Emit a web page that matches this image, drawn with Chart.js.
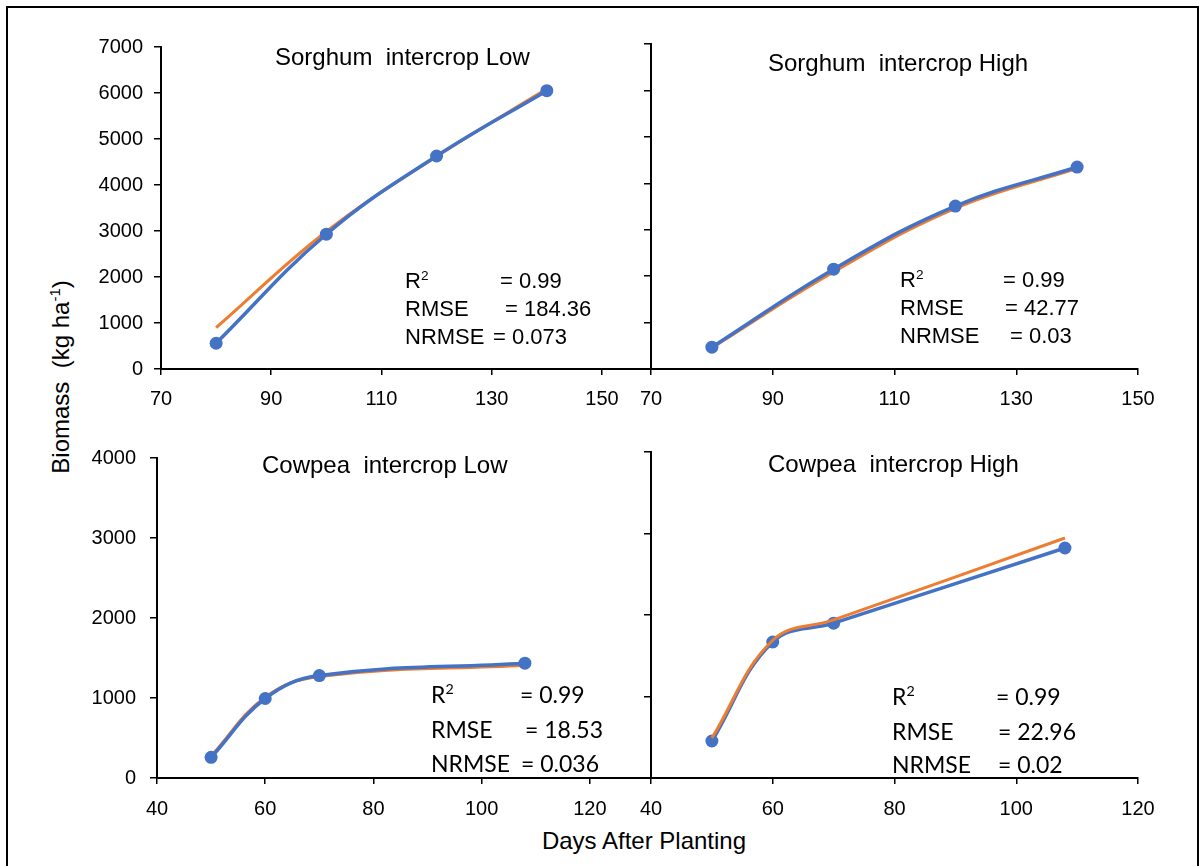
<!DOCTYPE html>
<html>
<head>
<meta charset="utf-8">
<script src="https://cdn.jsdelivr.net/npm/chart.js@4.4.0/dist/chart.umd.min.js"></script>
<style>
  body { margin: 0; background: #fff; }
  #fig { position: relative; width: 1199px; height: 866px; overflow: hidden; background: #fff; }
  #frame { position: absolute; left: 6px; top: 6px; width: 1189px; height: 900px; border: 2px solid #000; }
  canvas { position: absolute; }
  .t { position: absolute; white-space: pre; color: #000; line-height: 1; }
  .sup { position: relative; font-size: 0.62em; top: -0.6em; }
</style>
</head>
<body>
<div id="fig"><div id="frame"></div></div>
<script>
// days after planting
const sorghumDays = [80, 100, 120, 140];
const cowpeaDays = [50, 60, 70, 108];

// biomass (kg ha-1), observed = blue with markers, simulated = orange
const sorghumLowObs = [560, 2930, 4630, 6050];
const sorghumLowSim = [900, 2990, 4620, 6090];
const sorghumHighObs = [470, 2150, 3510, 4350];
const sorghumHighSim = [455, 2090, 3460, 4320];
const cowpeaLowObs = [258, 994, 1280, 1435];
const cowpeaLowSim = [275, 1010, 1270, 1410];
const cowpeaHighObs = [454, 1669, 1900, 2822];
const cowpeaHighSim = [490, 1690, 1940, 2945];

// tick labels
const sorghumXTicks = [70, 90, 110, 130, 150];
const cowpeaXTicks = [40, 60, 80, 100, 120];
const sorghumYTicks = [0, 1000, 2000, 3000, 4000, 5000, 6000, 7000];
const cowpeaYTicks = [0, 1000, 2000, 3000, 4000];

// panel titles and fit statistics
const panelTitles = ["Sorghum  intercrop Low", "Sorghum  intercrop High", "Cowpea  intercrop Low", "Cowpea  intercrop High"];
const statR2 = ["0.99", "0.99", "0.99", "0.99"];
const statRMSE = ["184.36", "42.77", "18.53", "22.96"];
const statNRMSE = ["0.073", "0.03", "0.036", "0.02"];

const BLUE = "#4472C4";
const ORANGE = "#ED7D31";
const ARIAL = "'Liberation Sans', Arial, sans-serif";
const CALIBRI = "Lato, 'Open Sans', sans-serif";

const fig = document.getElementById("fig");

// chart area [left, top, right, bottom] in page pixels
const panels = [
    { area: [161, 44, 651, 369], days: sorghumDays, obs: sorghumLowObs, sim: sorghumLowSim,
      xTicks: sorghumXTicks, xMax: 158.9, yTicks: sorghumYTicks, yLabels: true, simOnTop: false, yPad: 11, xPad: 12 },
    { area: [651, 44, 1138, 369], days: sorghumDays, obs: sorghumHighObs, sim: sorghumHighSim,
      xTicks: sorghumXTicks, xMax: 150, yTicks: sorghumYTicks, yLabels: false, simOnTop: false, yPad: 11, xPad: 12 },
    { area: [157, 452, 651, 778], days: cowpeaDays, obs: cowpeaLowObs, sim: cowpeaLowSim,
      xTicks: cowpeaXTicks, xMax: 131.3, yTicks: cowpeaYTicks, yLabels: true, simOnTop: false, yPad: 14, xPad: 13 },
    { area: [651, 452, 1138, 778], days: cowpeaDays, obs: cowpeaHighObs, sim: cowpeaHighSim,
      xTicks: cowpeaXTicks, xMax: 120, yTicks: cowpeaYTicks, yLabels: false, simOnTop: true, yPad: 14, xPad: 13 }
];

function makePanel(p) {
    const [l, t, r, b] = p.area;
    const padL = 70, padT = 20, padR = 30, padB = 45;
    const c = document.createElement("canvas");
    c.width = r - l + padL + padR;
    c.height = b - t + padT + padB;
    c.style.left = (l - padL) + "px";
    c.style.top = (t - padT) + "px";
    fig.appendChild(c);

    const obs = {
        label: "Observed",
        data: p.days.map((d, i) => ({ x: d, y: p.obs[i] })),
        borderColor: BLUE, backgroundColor: BLUE,
        borderWidth: 3.5, pointRadius: 6.5, pointBorderWidth: 0, tension: 0.4
    };
    const sim = {
        label: "Simulated",
        data: p.days.map((d, i) => ({ x: d, y: p.sim[i] })),
        borderColor: ORANGE, backgroundColor: ORANGE,
        borderWidth: 3, pointRadius: 0, tension: 0.4
    };
    const axisGrid = (len) => ({ drawOnChartArea: false, color: "#000", lineWidth: 1.5, tickLength: len });

    new Chart(c, {
        type: "line",
        data: { datasets: p.simOnTop ? [sim, obs] : [obs, sim] },
        options: {
            responsive: false,
            animation: false,
            layout: { padding: { left: 0, top: padT, right: padR, bottom: 0 } },
            plugins: { legend: { display: false }, tooltip: { enabled: false } },
            scales: {
                x: {
                    type: "linear", min: p.xTicks[0], max: p.xMax,
                    afterBuildTicks: s => { s.ticks = p.xTicks.map(v => ({ value: v })); },
                    afterFit: s => { s.height = padB; },
                    grid: axisGrid(6),
                    border: { color: "#000", width: 2 },
                    ticks: { color: "#000", font: { family: ARIAL, size: 20 }, padding: p.xPad,
                             maxRotation: 0, autoSkip: false, callback: v => String(v) }
                },
                y: {
                    min: 0, max: p.yTicks[p.yTicks.length - 1],
                    afterBuildTicks: s => { s.ticks = p.yTicks.map(v => ({ value: v })); },
                    afterFit: s => { s.width = padL; },
                    grid: axisGrid(7),
                    border: { color: "#000", width: 2 },
                    ticks: { display: p.yLabels, color: "#000", font: { family: ARIAL, size: 20 },
                             padding: p.yPad, callback: v => String(v) }
                }
            }
        }
    });
}

panels.forEach(makePanel);

// text placed by baseline
function addText(html, x, baseline, size, family) {
    const d = document.createElement("div");
    d.className = "t";
    d.innerHTML = html;
    d.style.fontSize = size + "px";
    d.style.fontFamily = family;
    const k = family === ARIAL ? 0.847 : 0.887;
    d.style.left = x + "px";
    d.style.top = (baseline - size * k) + "px";
    fig.appendChild(d);
    return d;
}

// panel titles
const titlePos = [[275, 65], [768, 71], [262, 473], [768, 472]];
panelTitles.forEach((s, i) => addText(s, titlePos[i][0], titlePos[i][1], 24, ARIAL));

// statistics blocks: label x, value x for each line, baselines
const statPos = [
    { x: 405, vx: [500, 505, 493], y: [289, 317, 345], font: ARIAL, size: 22 },
    { x: 900, vx: [1003, 1005, 1010], y: [288, 316, 344], font: ARIAL, size: 22 },
    { x: 431, vx: [520, 525, 521], y: [703, 738, 772], font: CALIBRI, size: 23 },
    { x: 892, vx: [996, 998, 998], y: [705, 740, 773], font: CALIBRI, size: 23 }
];
statPos.forEach((s, i) => {
    addText('R<span class="sup">2</span>', s.x, s.y[0], s.size, s.font);
    addText("RMSE", s.x, s.y[1], s.size, s.font);
    addText("NRMSE", s.x, s.y[2], s.size, s.font);
    addText("= " + statR2[i], s.vx[0], s.y[0], s.size, s.font);
    addText("= " + statRMSE[i], s.vx[1], s.y[1], s.size, s.font);
    addText("= " + statNRMSE[i], s.vx[2], s.y[2], s.size, s.font);
});

// axis titles
const xt = addText("Days After Planting", 44, 849, 24, ARIAL);
xt.style.width = "1200px";
xt.style.textAlign = "center";

const yt = document.createElement("div");
yt.className = "t";
yt.innerHTML = 'Biomass  (kg ha<span class="sup">-1</span>)';
yt.style.fontSize = "24px";
yt.style.fontFamily = ARIAL;
yt.style.width = "300px";
yt.style.textAlign = "center";
yt.style.left = (61 - 150) + "px";
yt.style.top = (377 - 12) + "px";
yt.style.transform = "rotate(-90deg)";
fig.appendChild(yt);
</script>
</body>
</html>
